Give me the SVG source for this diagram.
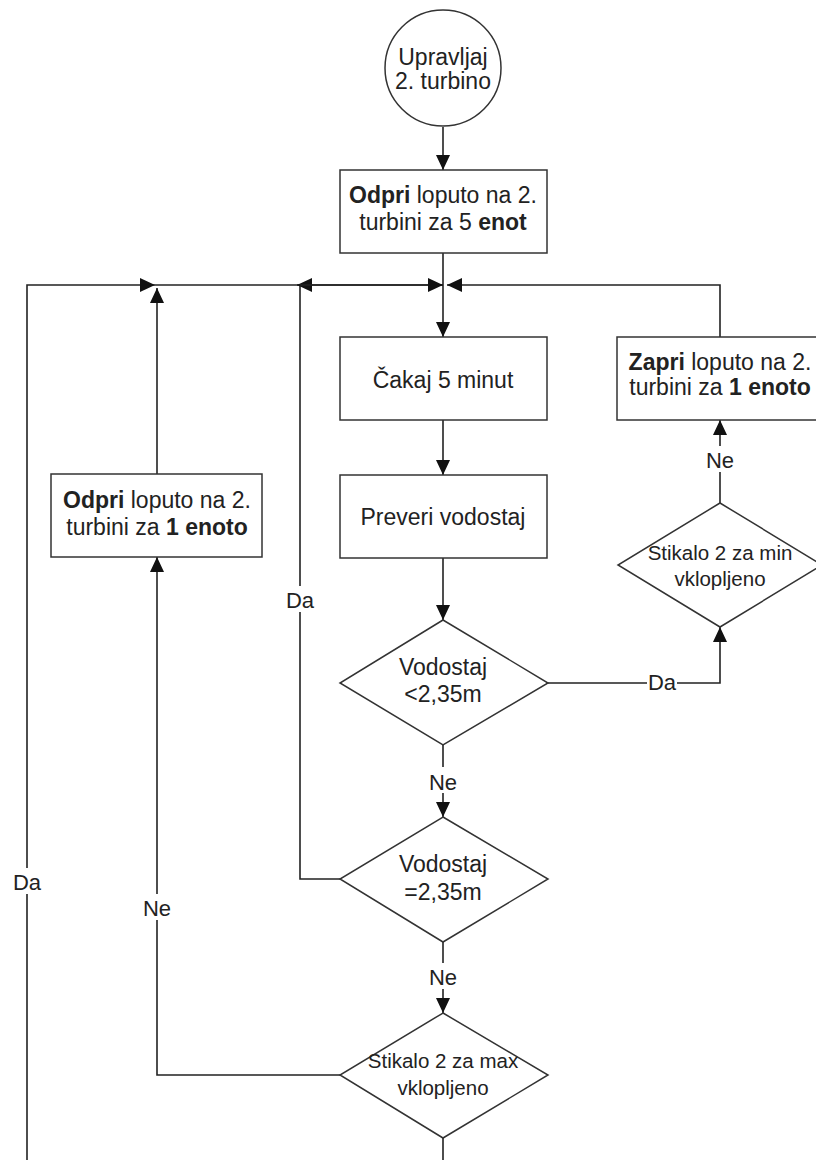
<svg xmlns="http://www.w3.org/2000/svg" width="816" height="1160" viewBox="0 0 816 1160">
  <style>
    .shape { fill: #ffffff; stroke: #333333; stroke-width: 1.5; }
    .conn { fill: none; stroke: #222222; stroke-width: 1.6; }
    .txt { font-family: "Liberation Sans", Arial, sans-serif; font-size: 23px; fill: #222222; text-anchor: middle; }
    .small { font-size: 20.5px; }
    .lbl { font-family: "Liberation Sans", Arial, sans-serif; font-size: 22px; fill: #222222; text-anchor: middle; }
    .bg { fill: #ffffff; stroke: none; }
    b, .b { font-weight: bold; }
  </style>
  <defs>
    <marker id="arrow" markerUnits="userSpaceOnUse" markerWidth="15" markerHeight="14" refX="15" refY="7" orient="auto">
      <path d="M0,0 L15,7 L0,14 z" fill="#111111"/>
    </marker>
  </defs>

  <rect width="816" height="1160" fill="#ffffff"/>

  <!-- connectors -->
  <g id="connectors">
    <path class="conn" d="M443,127 V170" marker-end="url(#arrow)"/>
    <path class="conn" d="M443,253 V337" marker-end="url(#arrow)"/>
    <path class="conn" d="M443,420 V475" marker-end="url(#arrow)"/>
    <path class="conn" d="M443,558 V620" marker-end="url(#arrow)"/>
    <path class="conn" d="M443,745 V817" marker-end="url(#arrow)"/>
    <path class="conn" d="M443,942 V1013" marker-end="url(#arrow)"/>
    <!-- outer loop (Da) back to the top line -->
    <path class="conn" d="M443,1138 V1180 H27 V285 H155" marker-end="url(#arrow)"/>
    <!-- max switch not on: open by one unit -->
    <path class="conn" d="M340,1075 H157 V557" marker-end="url(#arrow)"/>
    <path class="conn" d="M157,474 V288" marker-end="url(#arrow)"/>
    <!-- level equal: back to the loop -->
    <path class="conn" d="M340,879 H300 V285"/>
    <path class="conn" d="M155,285 H300"/>
    <path class="conn" d="M443,285 H297" marker-end="url(#arrow)"/>
    <path class="conn" d="M300,285 H443" marker-end="url(#arrow)"/>
    <!-- right branch -->
    <path class="conn" d="M548,683 H720 V627" marker-end="url(#arrow)"/>
    <path class="conn" d="M720,503 V420" marker-end="url(#arrow)"/>
    <path class="conn" d="M720,337 V285 H447" marker-end="url(#arrow)"/>
  </g>

  <!-- connector labels -->
  <g id="labels">
    <rect class="bg" x="428" y="767" width="30" height="26"/>
    <text class="lbl" x="443" y="790">Ne</text>
    <rect class="bg" x="428" y="963" width="30" height="26"/>
    <text class="lbl" x="443" y="985">Ne</text>
    <rect class="bg" x="142" y="894" width="30" height="26"/>
    <text class="lbl" x="157" y="916">Ne</text>
    <rect class="bg" x="285" y="586" width="30" height="26"/>
    <text class="lbl" x="300" y="608">Da</text>
    <rect class="bg" x="12" y="868" width="30" height="26"/>
    <text class="lbl" x="27" y="890">Da</text>
    <rect class="bg" x="647" y="670" width="30" height="26"/>
    <text class="lbl" x="662" y="690">Da</text>
    <rect class="bg" x="705" y="446" width="30" height="26"/>
    <text class="lbl" x="720" y="468">Ne</text>
  </g>

  <g id="start">
    <circle class="shape" cx="443" cy="68" r="58"/>
    <text class="txt" x="443" y="65">Upravljaj</text>
    <text class="txt" x="443" y="89">2. turbino</text>
  </g>

  <g id="open5">
    <rect class="shape" x="340" y="170" width="207" height="83"/>
    <text class="txt" x="443" y="203"><tspan class="b">Odpri</tspan> loputo na 2.</text>
    <text class="txt" x="443" y="230">turbini za 5 <tspan class="b">enot</tspan></text>
  </g>

  <g id="wait">
    <rect class="shape" x="340" y="337" width="207" height="83"/>
    <text class="txt" x="443" y="388">Čakaj 5 minut</text>
  </g>

  <g id="check">
    <rect class="shape" x="340" y="475" width="207" height="83"/>
    <text class="txt" x="443" y="525">Preveri vodostaj</text>
  </g>

  <g id="levelLow">
    <polygon class="shape" points="443,620 548,683 443,745 340,683"/>
    <text class="txt" x="443" y="675">Vodostaj</text>
    <text class="txt" x="443" y="702">&lt;2,35m</text>
  </g>

  <g id="levelEqual">
    <polygon class="shape" points="443,817 548,879 443,942 340,879"/>
    <text class="txt" x="443" y="872">Vodostaj</text>
    <text class="txt" x="443" y="900">=2,35m</text>
  </g>

  <g id="switchMax">
    <polygon class="shape" points="443,1013 548,1075 443,1138 340,1075"/>
    <text class="txt small" x="443" y="1068">Stikalo 2 za max</text>
    <text class="txt small" x="443" y="1095">vklopljeno</text>
  </g>

  <g id="switchMin">
    <polygon class="shape" points="720,503 822,565 720,627 618,565"/>
    <text class="txt small" x="720" y="560">Stikalo 2 za min</text>
    <text class="txt small" x="720" y="586">vklopljeno</text>
  </g>

  <g id="close1">
    <rect class="shape" x="617" y="337" width="206" height="83"/>
    <text class="txt" x="720" y="370"><tspan class="b">Zapri</tspan> loputo na 2.</text>
    <text class="txt" x="720" y="395">turbini za <tspan class="b">1 enoto</tspan></text>
  </g>

  <g id="open1">
    <rect class="shape" x="51" y="474" width="211" height="83"/>
    <text class="txt" x="157" y="508"><tspan class="b">Odpri</tspan> loputo na 2.</text>
    <text class="txt" x="157" y="535">turbini za <tspan class="b">1 enoto</tspan></text>
  </g>
</svg>
